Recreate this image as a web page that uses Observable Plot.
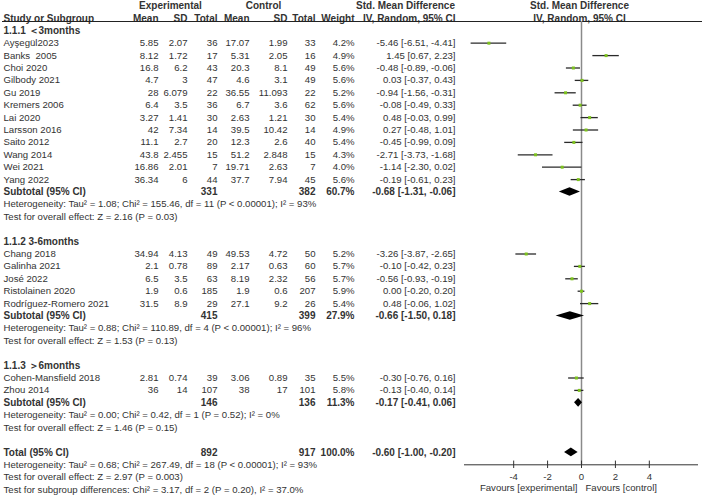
<!DOCTYPE html>
<html><head><meta charset="utf-8">
<script src="https://cdn.jsdelivr.net/npm/d3@7"></script>
<script src="https://cdn.jsdelivr.net/npm/@observablehq/plot@0.6"></script>
<style>body{margin:0;background:#fff}</style>
</head><body><div id="chart"></div>
<script>
// ---------- data ----------
const studies = ["Ayşegül2023","Banks  2005","Choi 2020","Gilbody 2021","Gu 2019","Kremers 2006","Lai 2020","Larsson 2016","Saito 2012","Wang 2014","Wei 2021","Yang 2022","Chang 2018","Galinha 2021","José 2022","Ristolainen 2020","Rodríguez-Romero 2021","Cohen-Mansfield 2018","Zhou 2014"];
const groupOf = [0,0,0,0,0,0,0,0,0,0,0,0,1,1,1,1,1,2,2];
const expMean = [5.85,8.12,16.8,4.7,28,6.4,3.27,42,11.1,43.8,16.86,36.34,34.94,2.1,6.5,1.9,31.5,2.81,36];
const expSD = [2.07,1.72,6.2,3,6.079,3.5,1.41,7.34,2.7,2.455,2.01,6,4.13,0.78,3.5,0.6,8.9,0.74,14];
const expN = [36,17,43,47,22,36,30,14,20,15,7,44,49,89,63,185,29,39,107];
const ctlMean = [17.07,5.31,20.3,4.6,36.55,6.7,2.63,39.5,12.3,51.2,19.71,37.7,49.53,2.17,8.19,1.9,27.1,3.06,38];
const ctlSD = [1.99,2.05,8.1,3.1,11.093,3.6,1.21,10.42,2.6,2.848,2.63,7.94,4.72,0.63,2.32,0.6,9.2,0.89,17];
const ctlN = [33,16,49,49,22,62,30,14,40,15,7,45,50,60,56,207,26,35,101];
const weight = [4.2,4.9,5.6,5.6,5.2,5.6,5.4,4.9,5.4,4.3,4.0,5.6,5.2,5.7,5.7,5.9,5.4,5.5,5.8];
const smd = [-5.46,1.45,-0.48,0.03,-0.94,-0.08,0.48,0.27,-0.45,-2.71,-1.14,-0.19,-3.26,-0.10,-0.56,0.00,0.48,-0.30,-0.13];
const ciLo = [-6.51,0.67,-0.89,-0.37,-1.56,-0.49,-0.03,-0.48,-0.99,-3.73,-2.30,-0.61,-3.87,-0.42,-0.93,-0.20,-0.06,-0.76,-0.40];
const ciHi = [-4.41,2.23,-0.06,0.43,-0.31,0.33,0.99,1.01,0.09,-1.68,0.02,0.23,-2.65,0.23,-0.19,0.20,1.02,0.16,0.14];

const groupLabels = ["1.1.1 ＜3months","1.1.2 3-6months","1.1.3 ＞6months"];
const subExpN = [331,415,146];
const subCtlN = [382,399,136];
const subWeight = [60.7,27.9,11.3];
const subSmd = [-0.68,-0.66,-0.17];
const subLo = [-1.31,-1.50,-0.41];
const subHi = [-0.06,0.18,0.06];
const subHet = [
  "Heterogeneity: Tau² = 1.08; Chi² = 155.46, df = 11 (P < 0.00001); I² = 93%",
  "Heterogeneity: Tau² = 0.88; Chi² = 110.89, df = 4 (P < 0.00001); I² = 96%",
  "Heterogeneity: Tau² = 0.00; Chi² = 0.42, df = 1 (P = 0.52); I² = 0%"];
const subTest = [
  "Test for overall effect: Z = 2.16 (P = 0.03)",
  "Test for overall effect: Z = 1.53 (P = 0.13)",
  "Test for overall effect: Z = 1.46 (P = 0.15)"];
const totalExpN = 892, totalCtlN = 917, totalWeight = 100.0;
const totalSmd = -0.60, totalLo = -1.00, totalHi = -0.20;
const totalNotes = [
  "Heterogeneity: Tau² = 0.68; Chi² = 267.49, df = 18 (P < 0.00001); I² = 93%",
  "Test for overall effect: Z = 2.97 (P = 0.003)",
  "Test for subgroup differences: Chi² = 3.17, df = 2 (P = 0.20), I² = 37.0%"];
const tickValues = [-4,-2,0,2,4];
const axisDomain = [-6.9, 6.9];
const favours = ["Favours [experimental]", "Favours [control]"];

// ---------- build rows ----------
const ci = (e,l,h) => `${e.toFixed(2)} [${l.toFixed(2)}, ${h.toFixed(2)}]`;
const studyRows = [], boldRows = [], plainNotes = [], diamonds = [];
let r = -1;
groupLabels.forEach((lab, g) => {
  boldRows.push({row: r, name: lab});
  r++;
  studies.forEach((s, i) => {
    if (groupOf[i] !== g) return;
    studyRows.push({row: r, name: s, m1: String(expMean[i]), s1: String(expSD[i]), n1: String(expN[i]),
      m2: String(ctlMean[i]), s2: String(ctlSD[i]), n2: String(ctlN[i]), w: weight[i].toFixed(1) + "%",
      ci: ci(smd[i], ciLo[i], ciHi[i]), est: smd[i], lo: ciLo[i], hi: ciHi[i]});
    r++;
  });
  boldRows.push({row: r, name: "Subtotal (95% CI)", n1: String(subExpN[g]), n2: String(subCtlN[g]),
    w: subWeight[g].toFixed(1) + "%", ci: ci(subSmd[g], subLo[g], subHi[g])});
  diamonds.push({id: g, row: r, est: subSmd[g], lo: subLo[g], hi: subHi[g]});
  r++;
  plainNotes.push({row: r, name: subHet[g]}); r++;
  plainNotes.push({row: r, name: subTest[g]}); r++;
  r++;
});
boldRows.push({row: r, name: "Total (95% CI)", n1: String(totalExpN), n2: String(totalCtlN),
  w: totalWeight.toFixed(1) + "%", ci: ci(totalSmd, totalLo, totalHi)});
diamonds.push({id: 3, row: r, est: totalSmd, lo: totalLo, hi: totalHi});
const axisRow = r + 1;
r++;
totalNotes.forEach(t => { plainNotes.push({row: r, name: t}); r++; });

const dh = 0.35;
const diamondPts = diamonds.flatMap(d => [
  {id: d.id, y: d.row - dh, x1: d.est, x2: d.est},
  {id: d.id, y: d.row, x1: d.lo, x2: d.hi},
  {id: d.id, y: d.row + dh, x1: d.est, x2: d.est}]);

// ---------- layout ----------
const ML = 2;
const cols = [
  {key: "name", x: 3, anchor: "start"},
  {key: "m1", x: 158, anchor: "end"},
  {key: "s1", x: 187, anchor: "end"},
  {key: "n1", x: 217, anchor: "end"},
  {key: "m2", x: 249, anchor: "end"},
  {key: "s2", x: 287, anchor: "end"},
  {key: "n2", x: 315, anchor: "end"},
  {key: "w", x: 354, anchor: "end"},
  {key: "ci", x: 455, anchor: "end"}];
const textCol = "#333";
const FONT = "Liberation Sans, Arial, sans-serif";
const FS = 9.6, FSB = 10;

function colMarks(data, bold) {
  return cols.map(c => Plot.text(data.filter(d => d[c.key] != null), {
    y: "row", text: c.key, frameAnchor: "left", dx: c.x - ML, textAnchor: c.anchor,
    fill: textCol, fontWeight: bold ? "bold" : "normal", fontSize: bold ? FSB : FS}));
}

const header1 = [
  {row: -3, t: "Experimental", x: 170, a: "middle"},
  {row: -3, t: "Control", x: 263, a: "middle"},
  {row: -3, t: "Std. Mean Difference", x: 405, a: "middle"},
  {row: -2, t: "Study or Subgroup", x: 3, a: "start"},
  {row: -2, t: "Mean", x: 158, a: "end"},
  {row: -2, t: "SD", x: 187, a: "end"},
  {row: -2, t: "Total", x: 217, a: "end"},
  {row: -2, t: "Mean", x: 249, a: "end"},
  {row: -2, t: "SD", x: 287, a: "end"},
  {row: -2, t: "Total", x: 315, a: "end"},
  {row: -2, t: "Weight", x: 354, a: "end"},
  {row: -2, t: "IV, Random, 95% CI", x: 455, a: "end"}];
const header2 = [
  {row: -3, t: "Std. Mean Difference"},
  {row: -2, t: "IV, Random, 95% CI"}];

const marks = [
  ...header1.map(h => Plot.text([h], {y: "row", text: "t", frameAnchor: "left", dx: h.x - ML,
    textAnchor: h.a, fontWeight: "bold", fill: textCol, fontSize: FSB})),
  Plot.text(header2, {x: 0, y: "row", text: "t", dx: -2, fontWeight: "bold", fill: textCol, fontSize: FSB}),
  Plot.ruleY([-1.75], {stroke: "#222", strokeWidth: 1}),
  Plot.ruleX([0], {y1: -1.75, y2: axisRow, stroke: "#8a8a8a", strokeWidth: 1.5}),
  ...colMarks(studyRows, false),
  ...colMarks(boldRows, true),
  Plot.text(plainNotes, {y: "row", text: "name", frameAnchor: "left", dx: 3 - ML, textAnchor: "start", fill: textCol, fontSize: FS}),
  Plot.ruleY(studyRows, {y: "row", x1: "lo", x2: "hi", stroke: "#2a2a2a", strokeWidth: 1.3}),
  Plot.dot(studyRows, {x: "est", y: "row", symbol: "square", r: 1.7, fill: "#7dc21e", stroke: null}),
  Plot.areaX(diamondPts, {y: "y", x1: "x1", x2: "x2", z: "id", fill: "#000", curve: "linear"}),
  Plot.ruleY([axisRow], {x1: axisDomain[0], x2: axisDomain[1], stroke: "#333", strokeWidth: 1}),
  Plot.ruleX(tickValues, {x: d => d, y1: axisRow - 0.3, y2: axisRow + 0.3, stroke: "#333"}),
  Plot.text(tickValues, {x: d => d, y: axisRow + 0.95, text: d => String(d), fill: textCol, fontSize: FS}),
  Plot.text([favours[0]], {x: 0, y: axisRow + 1.85, text: d => d, dx: -4, textAnchor: "end", fill: textCol, fontSize: FS}),
  Plot.text([favours[1]], {x: 0, y: axisRow + 1.85, text: d => d, dx: 4, textAnchor: "start", fill: textCol, fontSize: FS})
];

const chart = Plot.plot({
  width: 708, height: 497,
  marginLeft: ML, marginRight: 6, marginTop: 0, marginBottom: 0,
  style: {fontFamily: FONT, background: "#fff", color: textCol},
  x: {domain: axisDomain, range: [464, 698], axis: null},
  y: {domain: [-3, 36], range: [5.5, 489.1], axis: null},
  marks
});
document.getElementById("chart").appendChild(chart);
</script>
</body></html>
